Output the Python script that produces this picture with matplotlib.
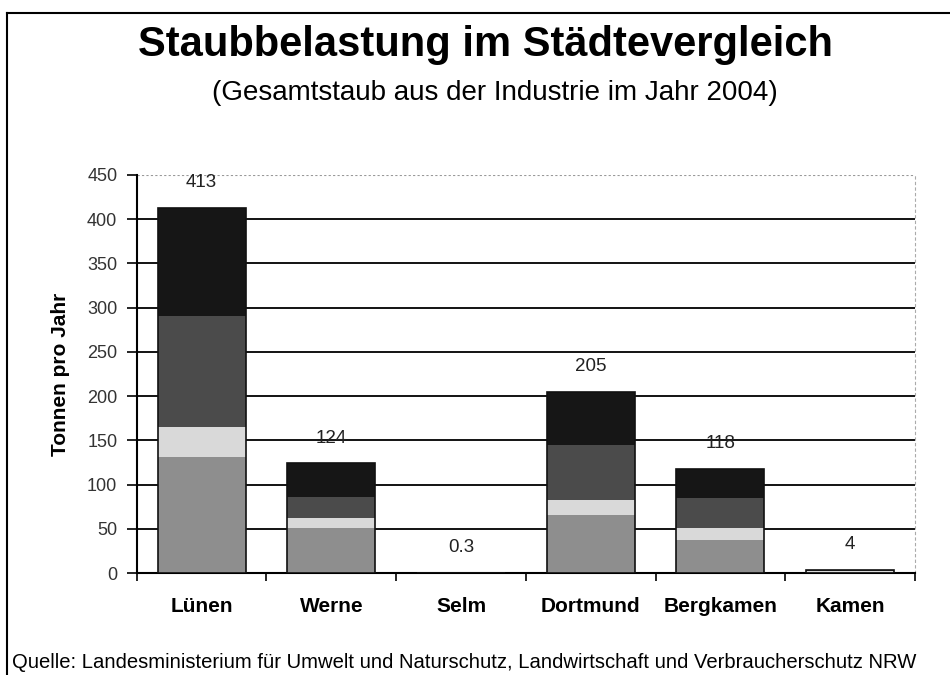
import matplotlib.pyplot as plt
import numpy as np
from matplotlib.lines import Line2D

plt.rcParams['font.family'] = ['Liberation Sans', 'DejaVu Sans']

cities = ['Lünen', 'Werne', 'Selm', 'Dortmund', 'Bergkamen', 'Kamen']
# stacked segments, bottom to top (t/a)
seg1 = [131, 51, 0.3, 66, 37, 1.5]
seg2 = [34, 11, 0.0, 17, 14, 0.3]
seg3 = [125, 24, 0.0, 62, 34, 1.2]
seg4 = [123, 38, 0.0, 60, 33, 1.0]
totals = ['413', '124', '0.3', '205', '118', '4']
seg_colors = ['#8e8e8e', '#d9d9d9', '#4b4b4b', '#161616']

fig = plt.figure(figsize=(9.5, 6.75), dpi=100)
ax = fig.add_axes([0.144, 0.151, 0.819, 0.590])

x = np.arange(len(cities))
bottom = np.zeros(len(cities))
for vals, c in zip([seg1, seg2, seg3, seg4], seg_colors):
    ax.bar(x, vals, 0.68, bottom=bottom, color=c, edgecolor='none', zorder=3)
    bottom = bottom + np.array(vals)
ax.bar(x, bottom, 0.68, fill=False, edgecolor='#111111', linewidth=1.2, zorder=4)

for xi, tot, lab in zip(x, bottom, totals):
    ax.annotate(lab, (xi, tot), xytext=(0, 18), textcoords='offset points',
                ha='center', va='center', fontsize=13.5, color='#222222')

ax.set_xlim(-0.5, len(cities) - 0.5)
ax.set_ylim(0, 450)
ax.set_yticks(np.arange(0, 451, 50))
for yv in range(50, 450, 50):
    ax.axhline(yv, color='black', linewidth=1.3, zorder=1)
ax.axhline(450, color='#999999', linewidth=0.8, linestyle=(0, (2, 2)), zorder=1)

ax.set_xticks(x)
ax.set_xticklabels(cities, fontsize=15, fontweight='bold')
ax.set_xticks(np.arange(-0.5, len(cities), 1), minor=True)
ax.tick_params(axis='x', which='major', length=0, pad=17)
ax.tick_params(axis='x', which='minor', length=6, width=1.2, direction='out')
ax.tick_params(axis='y', length=7, width=1.2, direction='out', labelsize=13,
               labelcolor='#333333', pad=7)

ax.spines['top'].set_visible(False)
ax.spines['right'].set_color('#aaaaaa')
ax.spines['right'].set_linestyle((0, (2, 3)))
ax.spines['right'].set_linewidth(0.8)
ax.spines['left'].set_linewidth(1.5)
ax.spines['bottom'].set_linewidth(1.5)

ax.set_ylabel('Tonnen pro Jahr', fontsize=15, fontweight='bold', labelpad=12)

fig.text(0.511, 0.933, 'Staubbelastung im Städtevergleich', ha='center', va='center',
         fontsize=30, fontweight='bold')
fig.text(0.521, 0.862, '(Gesamtstaub aus der Industrie im Jahr 2004)', ha='center',
         va='center', fontsize=20)
fig.text(0.013, 0.019, 'Quelle: Landesministerium für Umwelt und Naturschutz, Landwirtschaft und Verbraucherschutz NRW',
         ha='left', va='center', fontsize=14.6)

# frame around the slide
fig.add_artist(Line2D([0.0075, 0.0075], [0.0, 0.981], color='black', linewidth=1.5))
fig.add_artist(Line2D([0.0075, 1.0], [0.981, 0.981], color='black', linewidth=1.5))

fig.savefig('out.png', dpi=100)
